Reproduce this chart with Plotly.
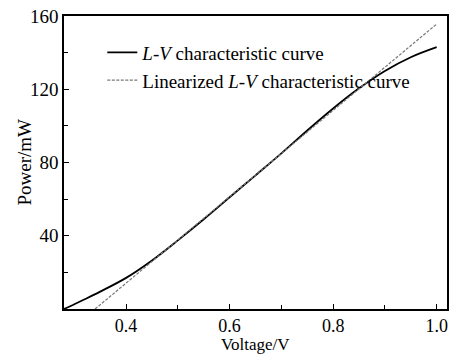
import plotly.graph_objects as go

voltage = [0.28, 0.30, 0.32, 0.35, 0.40, 0.45, 0.50, 0.55, 0.60, 0.65, 0.70, 0.75, 0.80, 0.85, 0.90, 0.95, 1.00]
power = [0.0, 2.6, 5.3, 9.5, 17.0, 26.5, 37.5, 49.0, 61.0, 73.0, 85.0, 97.5, 109.5, 120.5, 130.0, 137.5, 143.0]

lin_voltage = [0.34, 1.00]
lin_power = [0.0, 155.6]

x_ticks = [0.4, 0.6, 0.8, 1.0]
x_tick_labels = ["0.4", "0.6", "0.8", "1.0"]
y_ticks = [40, 80, 120, 160]
y_tick_labels = ["40", "80", "120", "160"]
x_title = "Voltage/V"
y_title = "Power/mW"

FONT = "Liberation Serif, Times New Roman, serif"

fig = go.Figure()
fig.add_trace(go.Scatter(
    x=voltage, y=power, mode="lines", line=dict(color="black", width=1.8, shape="spline"),
    name="<i>L</i>-<i>V</i> characteristic curve", legendgroup="a"))
fig.add_trace(go.Scatter(
    x=lin_voltage, y=lin_power, mode="lines", line=dict(color="#777777", width=1.2, dash="3px,1.5px"),
    name="Linearized <i>L</i>-<i>V</i> characteristic curve", legendgroup="b"))

axis_common = dict(
    showline=True, linecolor="black", linewidth=1.5, mirror=True,
    ticks="inside", ticklen=5, tickwidth=1.3, tickcolor="black",
    showgrid=False, zeroline=False, automargin=False,
)

fig.update_layout(
    width=454, height=354,
    margin=dict(l=64, r=7, t=16, b=45),
    paper_bgcolor="white", plot_bgcolor="white",
    font=dict(family=FONT, color="black", size=19),
    xaxis=dict(range=[0.28, 1.02], tickvals=x_ticks, ticktext=x_tick_labels,
               minor=dict(tickvals=[0.5, 0.7, 0.9], ticks="inside", ticklen=4, tickcolor="black", tickwidth=1.2),
               tickfont=dict(family=FONT, size=18, color="black"),
               **axis_common),
    yaxis=dict(range=[0, 160], tickvals=y_ticks, ticktext=y_tick_labels,
               minor=dict(tickvals=[20, 60, 100, 140], ticks="inside", ticklen=4, tickcolor="black", tickwidth=1.2),
               tickfont=dict(family=FONT, size=19, color="black"),
               **axis_common),
    showlegend=True,
    legend=dict(x=0.1, y=0.94, xanchor="left", yanchor="top", bgcolor="rgba(0,0,0,0)",
                font=dict(family=FONT, size=19), traceorder="grouped", tracegroupgap=0,
                itemwidth=30),
    annotations=[
        dict(text=x_title, xref="paper", yref="paper", x=0.5, y=0, xanchor="center", yanchor="top",
             yshift=-25, showarrow=False, borderpad=0, font=dict(family=FONT, size=17)),
        dict(text=y_title, xref="paper", yref="paper", x=0, y=0.5, xanchor="center", yanchor="middle",
             xshift=-40, textangle=-90, showarrow=False, font=dict(family=FONT, size=19)),
    ],
)

fig.write_html("out.html")
